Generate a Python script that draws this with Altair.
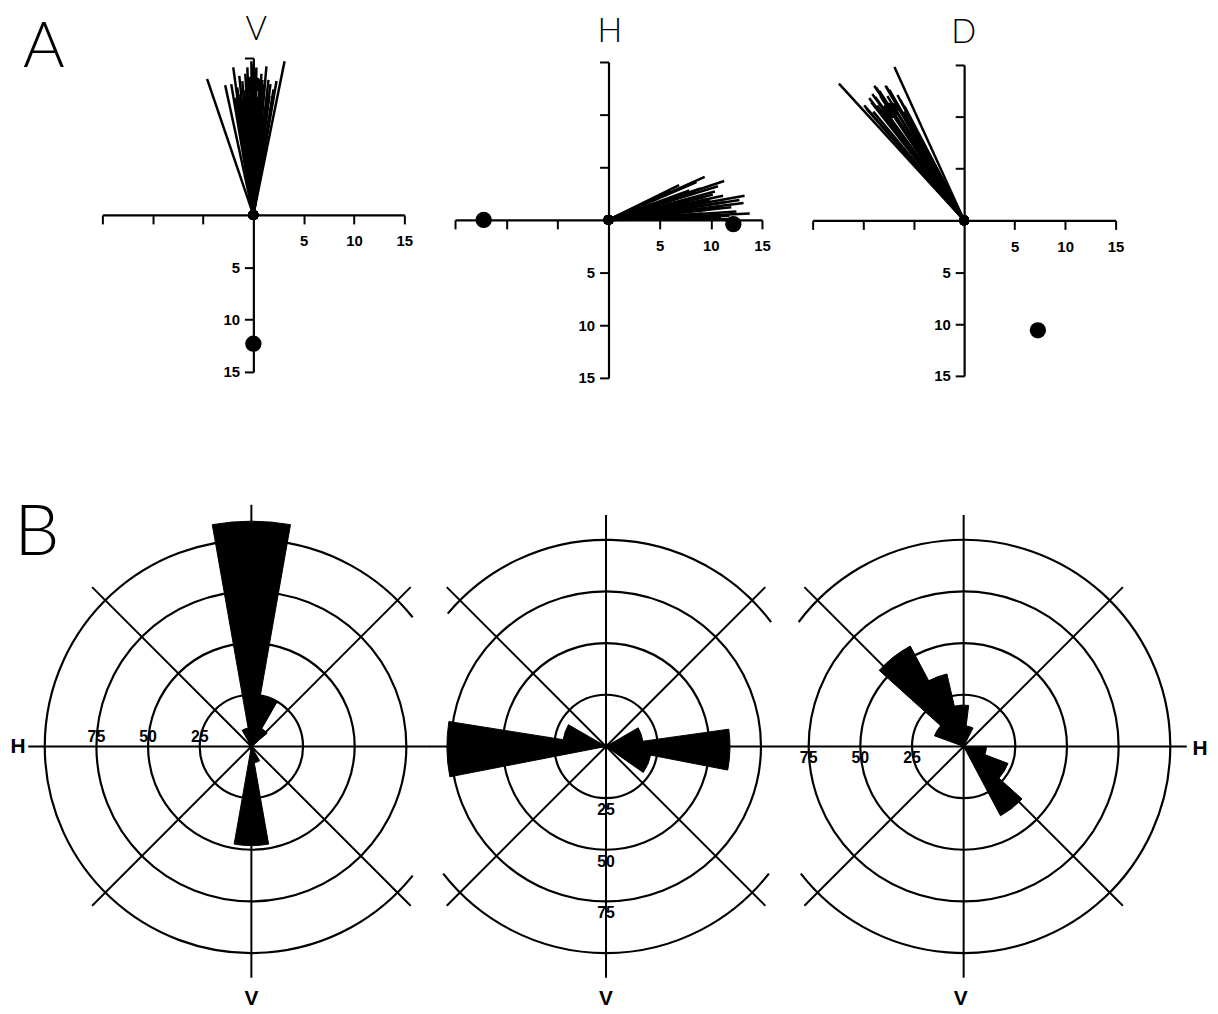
import math
import altair as alt
import pandas as pd

# ---------------- Panel A data: end points of the vectors (x, y) ----------------
V_fan_x = [-4.6, -2.8, -2.0, -1.4, -0.6, -0.2, 0.3, 0.8, 1.3, 1.6, 3.1, -0.9, -0.4, 0.1,
           0.4, 1.1, 1.4, -1.1, -1.6, 0.9, -0.6, 0.6, 0.0, -2.2, 1.7, -1.2, 0.2, 1.0,
           -1.0, -0.5, 0.5, 1.2, -1.3, 0.7, -0.3, 0.0, 1.9, -1.8, 2.0, -0.8, 0.3, 1.5,
           -1.5, -0.1, 0.9, 2.3]
V_fan_y = [13.0, 12.4, 14.1, 13.3, 14.1, 14.7, 14.1, 13.5, 14.2, 11.4, 14.7, 11.9, 11.3, 10.6,
           11.3, 12.5, 11.6, 12.8, 12.2, 10.6, 12.5, 12.2, 14.4, 12.5, 12.5, 11.0, 13.0, 11.8,
           10.0, 9.5, 9.8, 10.2, 11.5, 11.0, 12.0, 11.6, 11.0, 11.2, 12.0, 13.5, 12.7, 12.9,
           10.8, 13.6, 12.9, 12.8]
V_dot_x = [0.0, 0.0]
V_dot_y = [12.5, -12.3]

H_fan_x = [9.4, 11.3, 13.3, 13.2, 13.8, 11.2, 10.7, 6.9, 8.6, 12.5, 12.5, 9.9, 7.9, 10.9,
           9.2, 11.5, 7.6, 12.8, 10.4, 5.9, 8.0, 6.5, 11.8, 7.2, 7.0, 8.5, 9.5, 6.0,
           10.0, 11.0, 8.8, 7.4, 9.0, 10.2, 6.6, 12.0]
H_fan_y = [4.1, 3.7, 2.3, 1.6, 0.6, 2.3, 3.2, 3.3, 3.6, 0.8, 0.1, 1.9, 2.8, 1.25,
           0.6, 1.7, 0.9, 1.9, 2.7, 0.3, 2.0, 1.5, 0.4, 2.4, 3.0, 2.6, 2.2, 2.7,
           1.0, 0.3, 1.4, 1.8, 3.0, 2.4, 2.2, 1.2]
H_dot_x = [-12.2, 12.2]
H_dot_y = [0.0, -0.4]

D_fan_x = [-12.4, -6.9, -8.7, -7.8, -9.2, -6.6, -9.9, -8.4, -7.4, -8.1, -7.1, -9.1, -9.7,
           -7.6, -8.6, -6.3, -8.9, -6.0, -5.6, -8.0, -7.0, -9.4, -6.8, -8.3, -7.7, -9.0,
           -6.4, -7.3, -8.8, -5.9]
D_fan_y = [13.2, 14.8, 12.8, 13.0, 11.4, 12.1, 11.1, 12.5, 12.6, 11.7, 11.1, 12.2, 10.8,
           12.0, 11.1, 11.6, 13.0, 10.5, 9.6, 10.6, 10.4, 11.8, 11.5, 12.0, 12.9, 10.5,
           10.8, 12.2, 11.9, 11.0]
D_dot_x = [-7.3, 7.3]
D_dot_y = [10.6, -10.6]

A_ticks = [-15, -10, -5, 5, 10, 15]

# ---------------- Panel B data: rose petals (degrees CCW from +H, value) ----------------
B1_start = [80, 60, 40, 100, 260, 280]
B1_end = [100, 80, 60, 120, 280, 300]
B1_val = [109, 25, 10, 9, 48, 8]

B2_start = [171, 150, -11, 8, -35]
B2_end = [191, 171, 8, 30, -11]
B2_val = [77, 21, 60, 18, 22]

B3_start = [63, 83, 103, 118, 138, -21, -42, -62]
B3_end = [83, 103, 118, 138, 160, 0, -21, -42]
B3_val = [10, 20, 36, 55, 15, 11, 23, 38]

ring_r = [25, 50, 75]
ring_lab = ["25", "50", "75"]
outer_r = 100
B1_outer = [(38.7, 321.3)]
B2_outer = [(37, 140), (218, 322)]
B3_outer = [(-142, 143)]

line_ang = [0, 45, 90, 135, 180, 225, 270, 315]
B1_len = [86.2, 109, 117, 109, 108, 109, 112, 109]
B2_len = [86.6, 109, 112, 109, 85.7, 109, 112, 109]
B3_len = [108, 109, 112, 109, 86.6, 109, 112, 109]

# ---------------- layout / style ----------------
COLS = [424, 358, 428]
ROW_A = 432
ROW_B = 566
RPX = 208
CY = 308
LABEL_FONT = "Liberation Sans"
TITLE_FONT = "Lato"


def panel_a(fx, fy, dx, dy, title, w, xr, yr, tpos, letter=None):
    ox = (xr[0] + xr[1]) / 2
    oy = (yr[0] + yr[1]) / 2
    xs = alt.Scale(domain=[-15, 15], range=[xr[0], xr[1]], nice=False, zero=False)
    ys = alt.Scale(domain=[-15, 15], range=[yr[1], yr[0]], nice=False, zero=False)
    common = dict(values=A_ticks, title=None, grid=False, domainColor="black", domainWidth=2.2,
                  tickColor="black", tickWidth=2, tickSize=9, labelColor="black",
                  labelFont=LABEL_FONT, labelFontSize=15, labelFontWeight="bold",
                  labelFlush=False, labelOverlap=False, labelBound=False)
    xa = alt.Axis(orient="bottom", offset=-(ROW_A - oy), labelPadding=10,
                  labelExpr="datum.value > 0 ? datum.label : ''", **common)
    ya = alt.Axis(orient="left", offset=-ox, labelPadding=5,
                  labelExpr="datum.value < 0 ? format(-datum.value, 'd') : ''", **common)
    fan_df = pd.DataFrame({"x": fx, "y": fy})
    dot_df = pd.DataFrame({"x": dx, "y": dy})
    lines = alt.Chart(fan_df).transform_calculate(x0="0", y0="0").mark_rule(
        color="black", strokeWidth=2.5).encode(
        x=alt.X("x0:Q", scale=xs, axis=xa), y=alt.Y("y0:Q", scale=ys, axis=ya),
        x2="x", y2="y")
    origin = alt.Chart(fan_df).transform_calculate(x0="0", y0="0").mark_circle(
        size=100, color="black", opacity=1).encode(
        x=alt.X("x0:Q", scale=xs, axis=xa), y=alt.Y("y0:Q", scale=ys, axis=ya))
    dots = alt.Chart(dot_df).mark_circle(size=270, color="black", opacity=1).encode(
        x=alt.X("x:Q", scale=xs, axis=xa), y=alt.Y("y:Q", scale=ys, axis=ya))
    layers = [lines, origin, dots]
    texts = [(title, tpos[0], tpos[1], 33)]
    if letter:
        texts.append(letter)
    for t, tx, ty, fs in texts:
        layers.append(alt.Chart(pd.DataFrame({"t": [t]})).mark_text(
            font=TITLE_FONT, fontSize=fs, fontWeight=300, color="black",
            baseline="alphabetic", align="center").encode(
            text="t:N", x=alt.value(tx), y=alt.value(ty)))
    return alt.layer(*layers).properties(width=w, height=ROW_A)


def panel_b(starts, ends, vals, outer, lens, lab_ang, lab_dy, w, cx, texts):
    cy = CY
    rs = alt.Scale(type="linear", domain=[0, 100], range=[0, RPX], zero=True)
    ts = alt.Scale(type="linear", domain=[0, 360], range=[0, 2 * math.pi], zero=False)
    ring_df = pd.DataFrame({
        "r": ring_r + [outer_r] * len(outer),
        "a1": [0] * len(ring_r) + [a for a, _ in outer],
        "a2": [360] * len(ring_r) + [b for _, b in outer]})
    rings = alt.Chart(ring_df).transform_calculate(
        t1="90 - datum.a1", t2="90 - datum.a2").mark_arc(
        filled=False, color="black", strokeWidth=2.2).encode(
        theta=alt.Theta("t1:Q", scale=ts, stack=None), theta2="t2",
        radius=alt.Radius("r:Q", scale=rs), radius2="r",
        x=alt.value(cx), y=alt.value(cy))
    line_df = pd.DataFrame({"a": line_ang, "L": lens})
    lines = alt.Chart(line_df).transform_calculate(t="90 - datum.a").mark_arc(
        filled=False, color="black", strokeWidth=2).encode(
        theta=alt.Theta("t:Q", scale=ts, stack=None), theta2="t",
        radius=alt.Radius("L:Q", scale=rs), radius2=alt.value(0),
        x=alt.value(cx), y=alt.value(cy))
    pet_df = pd.DataFrame({"a1": starts, "a2": ends, "v": vals})
    petals = alt.Chart(pet_df).transform_calculate(
        t1="90 - datum.a1", t2="90 - datum.a2").mark_arc(
        color="black", stroke="black", strokeWidth=1).encode(
        theta=alt.Theta("t1:Q", scale=ts, stack=None), theta2="t2",
        radius=alt.Radius("v:Q", scale=rs), radius2=alt.value(0),
        x=alt.value(cx), y=alt.value(cy))
    lab_df = pd.DataFrame({"r": ring_r, "lab": ring_lab})
    labels = alt.Chart(lab_df).transform_calculate(t=f"90 - {lab_ang}").mark_text(
        font=LABEL_FONT, fontSize=16, fontWeight="bold", color="black",
        baseline="alphabetic", align="center", dy=lab_dy).encode(
        theta=alt.Theta("t:Q", scale=ts, stack=None),
        radius=alt.Radius("r:Q", scale=rs), text="lab:N",
        x=alt.value(cx), y=alt.value(cy))
    layers = [rings, lines, petals, labels]
    for t, tx, ty, fs, font, fw in texts:
        layers.append(alt.Chart(pd.DataFrame({"t": [t]})).mark_text(
            font=font, fontSize=fs, fontWeight=fw, color="black",
            baseline="alphabetic", align="center").encode(
            text="t:N", x=alt.value(tx), y=alt.value(ty)))
    return alt.layer(*layers).properties(width=w, height=ROW_B)


A1 = panel_a(V_fan_x, V_fan_y, V_dot_x, V_dot_y, "V", COLS[0], (95, 399), (47, 363), (250, 29),
             letter=("A", 36, 56, 64))
A2 = panel_a(H_fan_x, H_fan_y, H_dot_x, H_dot_y, "H", COLS[1], (26, 335), (51, 369), (182, 31))
A3 = panel_a(D_fan_x, D_fan_y, D_dot_x, D_dot_y, "D", COLS[2], (28, 333), (54, 367), (180, 32))

B1 = panel_b(B1_start, B1_end, B1_val, B1_outer, B1_len, 180, -4, COLS[0], 245,
             [("B", 29, 115, 72, TITLE_FONT, 300),
              ("H", 10, 315, 21, LABEL_FONT, "bold"),
              ("V", 245, 568, 21, LABEL_FONT, "bold")])
B2 = panel_b(B2_start, B2_end, B2_val, B2_outer, B2_len, 270, 17, COLS[1], 178,
             [("V", 178, 568, 21, LABEL_FONT, "bold")])
B3 = panel_b(B3_start, B3_end, B3_val, B3_outer, B3_len, 180, 17, COLS[2], 180,
             [("H", 418, 317, 21, LABEL_FONT, "bold"),
              ("V", 177, 568, 21, LABEL_FONT, "bold")])

chart = alt.concat(A1, A2, A3, B1, B2, B3, columns=3, spacing=0, bounds="flush").properties(
    padding=0, background="white").configure_view(strokeWidth=0)

chart.save("out.html", embed_options={"renderer": "svg", "actions": False})
